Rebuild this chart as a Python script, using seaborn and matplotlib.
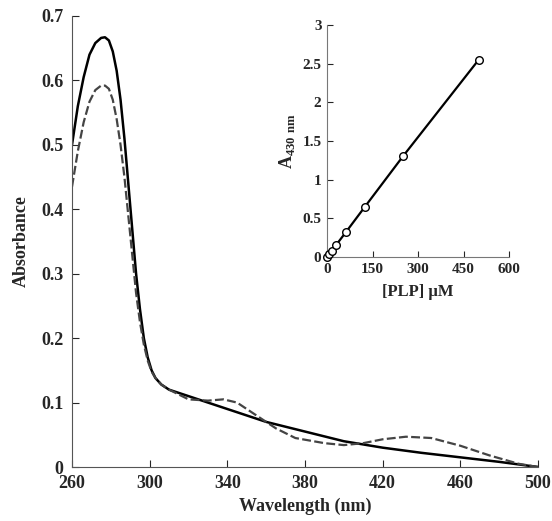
import numpy as np
import pandas as pd
import matplotlib
matplotlib.use('Agg')
import matplotlib.pyplot as plt
import seaborn as sns

sns.set_style('ticks')
plt.rcParams['font.family'] = ['Liberation Serif', 'DejaVu Serif']
plt.rcParams['font.weight'] = 'bold'

# main spectra
wl_solid = [260, 263, 266, 269, 272, 275, 277, 279, 281, 283, 285, 287, 289, 291, 293, 295, 297, 299, 301, 303, 306, 310, 320, 340, 360, 380, 400, 420, 440, 460, 480, 500]
abs_solid = [0.5, 0.56, 0.605, 0.64, 0.658, 0.666, 0.667, 0.662, 0.645, 0.615, 0.57, 0.51, 0.44, 0.37, 0.3, 0.245, 0.2, 0.17, 0.15, 0.138, 0.128, 0.12, 0.11, 0.09, 0.07, 0.055, 0.04, 0.03, 0.022, 0.015, 0.008, 0.0]
wl_dash = [260, 263, 266, 269, 272, 275, 277, 279, 281, 283, 285, 287, 289, 291, 293, 295, 297, 299, 301, 303, 306, 310, 320, 330, 338, 345, 355, 365, 375, 390, 400, 410, 420, 432, 445, 460, 475, 490, 500]
abs_dash = [0.435, 0.49, 0.535, 0.567, 0.585, 0.592, 0.592, 0.587, 0.57, 0.54, 0.5, 0.45, 0.39, 0.33, 0.27, 0.225, 0.19, 0.165, 0.148, 0.138, 0.128, 0.12, 0.105, 0.103, 0.105, 0.1, 0.08, 0.06, 0.045, 0.037, 0.034, 0.037, 0.043, 0.047, 0.045, 0.033, 0.018, 0.005, 0.0]

# inset calibration
plp = [0, 8, 16, 31, 62, 125, 250, 500]
a430 = [0, 0.04, 0.08, 0.16, 0.32, 0.65, 1.3, 2.55]

fig = plt.figure(figsize=(5.52, 5.21), dpi=100)
ax = fig.add_axes([72/552, 1-467/521, 466/552, 451/521])
sns.lineplot(x=wl_solid, y=abs_solid, ax=ax, color='black', lw=1.8)
sns.lineplot(x=wl_dash, y=abs_dash, ax=ax, color='#444444', lw=1.6, linestyle=(0, (4, 1.5)))
ax.set_xlim(260, 500)
ax.set_ylim(0, 0.7)
ax.set_xticks(range(260, 501, 40))
ax.set_yticks(np.arange(0, 0.71, 0.1))
ax.set_yticklabels(['0'] + [f'{v:.1f}' for v in np.arange(0.1, 0.71, 0.1)])
ax.set_xlabel('Wavelength (nm)', fontsize=13, fontweight='bold', labelpad=4)
ax.set_ylabel('Absorbance', fontsize=13, fontweight='bold', labelpad=8)
ax.tick_params(labelsize=13, direction='in', length=5)
ax.tick_params(axis='x', pad=6)
ax.tick_params(axis='y', pad=6)
sns.despine(ax=ax)
for s in ax.spines.values():
    s.set_color('#555555')

ins = fig.add_axes([327/552, 1-257/521, 182/552, 232/521])
ins.plot(plp, a430, color='black', lw=1.6, clip_on=False)
sns.scatterplot(x=plp, y=a430, ax=ins, s=30, facecolor='white', edgecolor='black', linewidth=1, zorder=3, clip_on=False)
ins.set_xlim(0, 600)
ins.set_ylim(0, 3)
ins.set_xticks([0, 150, 300, 450, 600])
ins.set_yticks([0, 0.5, 1, 1.5, 2, 2.5, 3])
ins.set_yticklabels(['0', '0.5', '1', '1.5', '2', '2.5', '3'])
ins.tick_params(labelsize=11, direction='in', length=4, pad=4)
ins.set_xlabel('[PLP] μM', fontsize=12, fontweight='bold', labelpad=6)
ins.set_ylabel('A$_{\\mathregular{430\\ nm}}$', fontsize=13, fontweight='bold', labelpad=4)
sns.despine(ax=ins)
for s in ins.spines.values():
    s.set_color('#777777')

fig.savefig('out.png', dpi=100)
